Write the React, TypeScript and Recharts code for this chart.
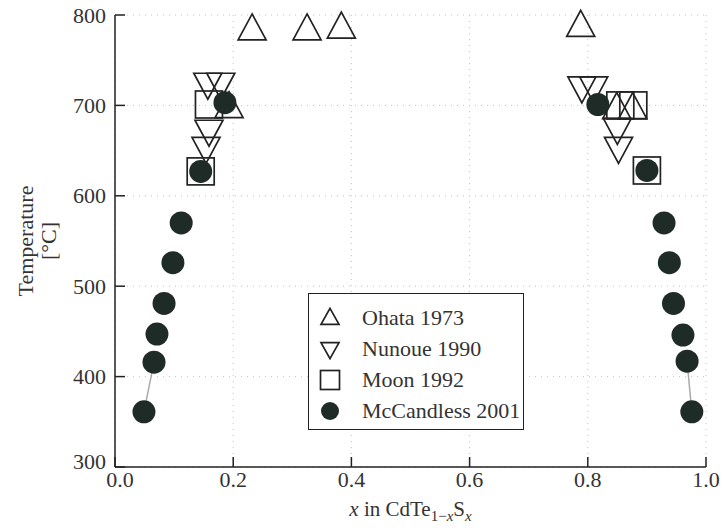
// Liquidus/solidus-style scatter of CdTe(1-x)S(x) miscibility data from four studies.
import { CartesianGrid, Legend, Scatter, ScatterChart, XAxis, YAxis } from 'recharts'

const INK = '#222'
const DOT = '#1f2b27'
const TEXT = '#333'
const FONT = '"Liberation Serif", "Times New Roman", serif'

const xTicks = [0, 0.2, 0.4, 0.6, 0.8, 1.0]
const tTicks = [300, 400, 500, 600, 700, 800]

// Ohata 1973 (open up-triangles)
const ohataX = [0.232, 0.325, 0.383, 0.788, 0.193, 0.849, 0.876]
const ohataT = [782, 782, 784, 786, 696, 695, 695]

// Nunoue 1990 (open down-triangles)
const nunoueX = [0.157, 0.179, 0.159, 0.154, 0.79, 0.81, 0.85, 0.852]
const nunoueT = [726, 726, 674, 655, 722, 722, 676, 655]

// Moon 1992 (open squares)
const moonX = [0.145, 0.159, 0.855, 0.877, 0.9]
const moonT = [627, 701, 700, 700, 628]

// McCandless 2001 (filled circles), Te-rich and S-rich branches
const mcLeftX = [0.049, 0.066, 0.071, 0.083, 0.098, 0.112, 0.145, 0.186]
const mcLeftT = [361, 416, 447, 481, 526, 570, 627, 703]
const mcRightX = [0.817, 0.9, 0.929, 0.938, 0.945, 0.961, 0.968, 0.976]
const mcRightT = [701, 628, 570, 526, 481, 446, 417, 361]

const pts = (xs: number[], ts: number[]) => xs.map((x, i) => ({ x, t: ts[i] }))

const ohata = pts(ohataX, ohataT)
const nunoue = pts(nunoueX, nunoueT)
const moon = pts(moonX, moonT)
const mcCandless = [...pts(mcLeftX, mcLeftT), ...pts(mcRightX, mcRightT)]
// thin grey tie between the two lowest points of each branch
const tieLeft = pts(mcLeftX.slice(0, 2), mcLeftT.slice(0, 2))
const tieRight = pts(mcRightX.slice(6), mcRightT.slice(6))

function UpTriangle({ cx, cy, w = 28, h = 26 }: any) {
  return (
    <path
      d={`M${cx},${cy - (2 * h) / 3} L${cx + w / 2},${cy + h / 3} L${cx - w / 2},${cy + h / 3} Z`}
      fill="none"
      stroke={INK}
      strokeWidth={1.7}
    />
  )
}

function DownTriangle({ cx, cy, w = 28, h = 26 }: any) {
  return (
    <path
      d={`M${cx},${cy + (2 * h) / 3} L${cx + w / 2},${cy - h / 3} L${cx - w / 2},${cy - h / 3} Z`}
      fill="none"
      stroke={INK}
      strokeWidth={1.7}
    />
  )
}

function Square({ cx, cy, s = 27 }: any) {
  return <rect x={cx - s / 2} y={cy - s / 2} width={s} height={s} fill="none" stroke={INK} strokeWidth={1.7} />
}

function Dot({ cx, cy, r = 11.5 }: any) {
  return <circle cx={cx} cy={cy} r={r} fill={DOT} />
}

const Nothing = () => <g />

const legendRows = [
  { label: 'Ohata 1973', icon: <UpTriangle cx={11} cy={12} w={18} h={16} /> },
  { label: 'Nunoue 1990', icon: <DownTriangle cx={11} cy={10} w={18} h={16} /> },
  { label: 'Moon 1992', icon: <Square cx={11} cy={11} s={19} /> },
  { label: 'McCandless 2001', icon: <Dot cx={11} cy={11} r={9} /> },
]

function LegendBox() {
  return (
    <div
      style={{
        border: `1.5px solid ${INK}`,
        background: '#fff',
        padding: '8px 0 0 10px',
        boxSizing: 'border-box',
        width: 216,
        height: 137,
        fontFamily: FONT,
        fontSize: 22,
        color: TEXT,
        whiteSpace: 'nowrap',
      }}
    >
      {legendRows.map((r) => (
        <div key={r.label} style={{ display: 'flex', alignItems: 'center', height: 31 }}>
          <svg width={22} height={22} style={{ marginRight: 21 }}>
            {r.icon}
          </svg>
          <span>{r.label}</span>
        </div>
      ))}
    </div>
  )
}

function TempLabel({ viewBox }: any) {
  const cy = viewBox.y + viewBox.height / 2
  return (
    <g>
      <text
        x={25}
        y={cy}
        transform={`rotate(-90, 25, ${cy})`}
        textAnchor="middle"
        dominantBaseline="central"
        fontFamily={FONT}
        fontSize={22}
        fill={TEXT}
      >
        Temperature
      </text>
      <text
        x={48}
        y={cy}
        transform={`rotate(-90, 48, ${cy})`}
        textAnchor="middle"
        dominantBaseline="central"
        fontFamily={FONT}
        fontSize={22}
        fill={TEXT}
      >
        [°C]
      </text>
    </g>
  )
}

function CompLabel({ viewBox }: any) {
  const cx = viewBox.x + viewBox.width / 2
  return (
    <text x={cx} y={516} textAnchor="middle" fontFamily={FONT} fontSize={21} fill={TEXT}>
      <tspan fontStyle="italic">x</tspan> in CdTe
      <tspan dy={5} fontSize={15}>1−</tspan>
      <tspan fontSize={15} fontStyle="italic">x</tspan>
      <tspan dy={-5}>S</tspan>
      <tspan dy={5} fontSize={15} fontStyle="italic">x</tspan>
    </text>
  )
}

// the corner labels (300 and 0.0) sit nudged away from each other
function TempTick({ x, y, payload }: any) {
  const lift = payload.value === 300 ? -6 : 0
  return (
    <text x={x} y={y + lift} textAnchor="end" dominantBaseline="central" fontFamily={FONT} fontSize={22} fill={TEXT}>
      {payload.value}
    </text>
  )
}

function CompTick({ x, y, payload }: any) {
  const shift = payload.value === 0 ? 5 : 0
  return (
    <text x={x + shift} y={y} dy="0.71em" textAnchor="middle" fontFamily={FONT} fontSize={22} fill={TEXT}>
      {payload.value.toFixed(1)}
    </text>
  )
}

const axisLine = { stroke: INK, strokeWidth: 1.5 }

export default function App() {
  return (
    <div style={{ position: 'absolute', left: 0, top: 0, background: '#fff' }}>
      <ScatterChart width={724} height={529} margin={{ top: 15, right: 18, bottom: 0, left: 0 }}>
        <CartesianGrid stroke="#c4c4c4" strokeDasharray="1 5" />
        <XAxis
          type="number"
          dataKey="x"
          domain={[0, 1]}
          ticks={xTicks}
          height={62}
          tickSize={-10}
          tickMargin={14}
          tick={<CompTick />}
          axisLine={axisLine}
          tickLine={axisLine}
          label={<CompLabel />}
        />
        <XAxis
          xAxisId="top"
          orientation="top"
          type="number"
          domain={[0, 1]}
          ticks={xTicks}
          height={0}
          tickSize={-10}
          tick={false}
          axisLine={axisLine}
          tickLine={axisLine}
        />
        <YAxis
          type="number"
          dataKey="t"
          domain={[300, 800]}
          ticks={tTicks}
          width={115}
          tickSize={-10}
          tickMargin={19}
          tick={<TempTick />}
          axisLine={axisLine}
          tickLine={axisLine}
          label={<TempLabel />}
        />
        <YAxis
          yAxisId="right"
          orientation="right"
          type="number"
          domain={[300, 800]}
          ticks={tTicks}
          width={0}
          tickSize={-10}
          tick={false}
          axisLine={axisLine}
          tickLine={axisLine}
        />
        <Legend
          layout="horizontal"
          verticalAlign="middle"
          align="center"
          wrapperStyle={{ position: 'absolute', left: 308, top: 293, width: 216, height: 137 }}
          content={<LegendBox />}
        />
        <Scatter data={tieLeft} line={{ stroke: '#aaa', strokeWidth: 1.5 }} shape={<Nothing />} isAnimationActive={false} legendType="none" />
        <Scatter data={tieRight} line={{ stroke: '#aaa', strokeWidth: 1.5 }} shape={<Nothing />} isAnimationActive={false} legendType="none" />
        <Scatter name="Ohata 1973" data={ohata} shape={<UpTriangle />} isAnimationActive={false} />
        <Scatter name="Nunoue 1990" data={nunoue} shape={<DownTriangle />} isAnimationActive={false} />
        <Scatter name="Moon 1992" data={moon} shape={<Square />} isAnimationActive={false} />
        <Scatter name="McCandless 2001" data={mcCandless} shape={<Dot />} isAnimationActive={false} />
      </ScatterChart>
    </div>
  )
}
